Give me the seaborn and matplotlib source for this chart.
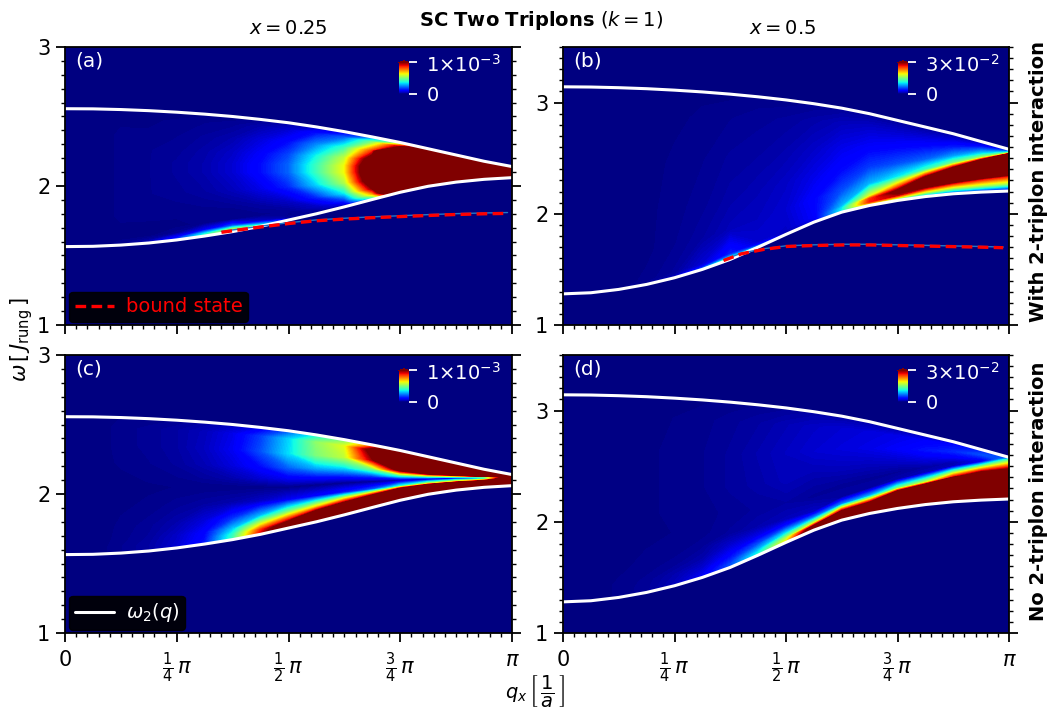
import numpy as np
import matplotlib
matplotlib.use("Agg")
import matplotlib.pyplot as plt
from matplotlib.ticker import MultipleLocator
import seaborn as sns

# q nodes in units of pi
q_nodes = [0, .0625, .125, .1875, .25, .3125, .375, .4375, .5, .5625, .625, .6875, .75, .8125, .875, .9375, 1]

# band edges
upper_25 = [2.556, 2.555, 2.55, 2.542, 2.531, 2.517, 2.50, 2.479, 2.455, 2.425, 2.391, 2.353, 2.313, 2.268, 2.223, 2.178, 2.14]
lower_25 = [1.564, 1.566, 1.575, 1.59, 1.612, 1.64, 1.672, 1.71, 1.755, 1.80, 1.85, 1.903, 1.955, 1.998, 2.028, 2.048, 2.06]
upper_50 = [3.142, 3.14, 3.134, 3.125, 3.112, 3.096, 3.076, 3.052, 3.024, 2.99, 2.95, 2.90, 2.84, 2.78, 2.72, 2.65, 2.58]
lower_50 = [1.28, 1.29, 1.32, 1.365, 1.425, 1.50, 1.59, 1.70, 1.815, 1.925, 2.015, 2.075, 2.12, 2.155, 2.18, 2.195, 2.205]

# curves the intensity grid is hung on, one per panel
mid_a = [2.10] * 17
mid_b = [1.33, 1.34, 1.37, 1.415, 1.475, 1.55, 1.64, 1.75, 1.865, 1.975, 2.07, 2.16, 2.24, 2.33, 2.41, 2.48, 2.54]
mid_c = [2.05, 2.05, 2.05, 2.05, 2.05, 2.05, 2.05, 2.05, 2.05, 2.065, 2.08, 2.09, 2.10, 2.108, 2.115, 2.118, 2.12]
mid_d = [1.9, 1.9, 1.9, 1.9, 1.9, 1.9, 1.9, 1.95, 2.02, 2.09, 2.22, 2.30, 2.38, 2.44, 2.50, 2.54, 2.565]

# position of the grid rows between lower edge -> mid and mid -> upper edge
low_rows = [0, .04, .1, .2, .4, .7, 1]
high_rows = [.15, .35, .6, .85, 1]

# bound state
bound_q_a = [.35, .4375, .5, .5625, .625, .6875, .75, .8125, .875, .9375, .99]
bound_w_a = [1.667, 1.705, 1.73, 1.75, 1.762, 1.772, 1.78, 1.788, 1.795, 1.80, 1.803]
bound_q_b = [.36, .40, .45, .5, .5625, .63, .6875, .75, .8125, .875, .9375, .987]
bound_w_b = [1.58, 1.64, 1.68, 1.706, 1.715, 1.72, 1.72, 1.715, 1.71, 1.705, 1.70, 1.695]

# intensity in units of the colour bar top, one row per q node
field_a = [
    [0, 0, 0, 0, 0, 0, 0, 0, 0, 0, 0, 0],
    [0, 0, 0, 0, 0, 0, 0, 0, 0, 0, 0, 0],
    [.01, .01, .005, .005, .01, .01, .01, .01, .01, .01, .005, 0],
    [.05, .03, .005, .005, .01, .015, .015, .015, .015, .01, .005, 0],
    [.18, .12, .02, .005, .01, .02, .025, .025, .02, .015, .01, 0],
    [.45, .35, .1, .01, .012, .03, .04, .04, .035, .025, .015, .005],
    [.7, .55, .2, .015, .015, .05, .07, .07, .06, .04, .02, .01],
    [.5, .3, .06, .01, .03, .09, .13, .13, .11, .08, .04, .015],
    [.06, .03, .01, .02, .06, .16, .22, .22, .19, .13, .07, .03],
    [.01, .01, .03, .06, .16, .33, .42, .42, .37, .26, .14, .05],
    [.01, .04, .1, .18, .36, .56, .64, .64, .58, .42, .22, .08],
    [.15, .3, .5, .72, 1.0, 1.2, 1.28, 1.28, 1.15, .85, .5, .18],
    [.9, 1.2, 1.6, 2, 2.5, 3, 3, 3, 3, 2.5, 1.0, .4],
    [1.2, 2, 3, 3, 3, 3, 3, 3, 3, 3, 2, 1.1],
    [3, 3, 3, 3, 3, 3, 3, 3, 3, 3, 3, 1.5],
    [3, 3, 3, 3, 3, 3, 3, 3, 3, 3, 3, 2],
    [3, 3, 3, 3, 3, 3, 3, 3, 3, 3, 3, 3],
]
field_b = [
    [0, 0, 0, 0, 0, 0, 0, 0, 0, 0, 0, 0],
    [0, 0, 0, 0, 0, 0, 0, 0, 0, 0, 0, 0],
    [.005, .005, .005, .005, .005, .004, .003, .002, .002, .001, 0, 0],
    [.02, .02, .02, .015, .015, .01, .01, .005, .005, .003, 0, 0],
    [.07, .07, .06, .05, .04, .03, .025, .015, .012, .01, .005, 0],
    [.3, .28, .25, .2, .14, .09, .07, .03, .02, .015, .01, .005],
    [.8, .75, .65, .5, .35, .22, .15, .05, .035, .025, .015, .005],
    [.45, .42, .35, .24, .14, .09, .07, .055, .045, .03, .02, .01],
    [.03, .03, .03, .03, .04, .05, .06, .07, .06, .04, .025, .01],
    [.05, .06, .07, .08, .09, .1, .11, .12, .09, .06, .035, .015],
    [.2, .24, .28, .32, .36, .34, .3, .2, .13, .09, .05, .02],
    [.35, .42, .55, .7, .88, .85, .62, .3, .18, .11, .06, .02],
    [.2, .3, .45, .65, .95, 1.05, .82, .36, .2, .12, .06, .02],
    [.12, .2, .35, .55, .88, 1.3, 1.0, .42, .22, .13, .06, .02],
    [.1, .15, .3, .52, .88, 1.6, 1.05, .5, .28, .15, .07, .02],
    [.08, .14, .3, .55, .88, 1.8, 1.1, .55, .35, .2, .08, .03],
    [.05, .12, .28, .55, .88, 2, 1.1, .6, .4, .2, .1, .03],
]
field_c = [
    [0, 0, 0, 0, 0, 0, 0, 0, 0, 0, 0, 0],
    [0, 0, 0, 0, 0, 0, 0, 0, 0, 0, 0, 0],
    [.015, .015, .015, .012, .01, .006, .004, .005, .01, .012, .012, .008],
    [.03, .03, .03, .025, .02, .01, .006, .01, .015, .018, .018, .01],
    [.07, .07, .065, .06, .04, .02, .008, .015, .025, .03, .03, .015],
    [.14, .14, .13, .12, .08, .03, .008, .025, .045, .055, .05, .03],
    [.42, .42, .4, .32, .17, .04, .008, .04, .08, .1, .09, .05],
    [.9, .9, .85, .65, .3, .06, .008, .07, .13, .2, .18, .09],
    [1.3, 1.3, 1.15, .9, .5, .1, .008, .1, .22, .34, .33, .2],
    [1.9, 1.9, 1.7, 1.3, .7, .12, .008, .12, .3, .5, .52, .36],
    [2.5, 2.5, 2.3, 1.9, .95, .15, .01, .14, .34, .58, .62, .48],
    [2.8, 2.8, 2.7, 2.3, 1.25, .2, .012, .18, .5, .98, 1.1, .75],
    [3, 3, 3, 2.8, 2, .4, .015, .4, 1.1, 2.4, 2.2, 1.2],
    [3, 3, 3, 3, 2.5, .6, .02, .6, 1.6, 3, 3, 1.5],
    [3, 3, 3, 3, 2.8, .7, .02, .8, 2, 3, 3, 1.5],
    [3, 3, 3, 3, 3, .9, .03, 1, 2.5, 3, 3, 1.6],
    [3, 3, 3, 3, 3, 3, 1.2, 1, 3, 3, 3, 2],
]
field_d = [
    [0, 0, 0, 0, 0, 0, 0, 0, 0, 0, 0, 0],
    [0, 0, 0, 0, 0, 0, 0, 0, 0, 0, 0, 0],
    [.01, .01, .01, .01, .006, .005, .005, .005, .005, .005, .003, 0],
    [.02, .02, .02, .018, .012, .008, .006, .006, .006, .006, .004, 0],
    [.05, .05, .045, .04, .02, .01, .008, .01, .01, .01, .008, .004],
    [.1, .1, .09, .07, .04, .02, .012, .012, .015, .015, .012, .006],
    [.2, .2, .19, .16, .11, .06, .025, .018, .025, .025, .02, .01],
    [.4, .38, .36, .3, .2, .09, .04, .025, .035, .04, .03, .015],
    [.65, .65, .62, .55, .35, .15, .05, .03, .05, .055, .045, .02],
    [1.3, 1.3, 1.2, 1.1, .6, .24, .06, .02, .04, .07, .06, .03],
    [2, 2, 2, 1.8, 1.0, .25, .03, .02, .05, .08, .07, .03],
    [2.5, 2.5, 2.4, 2.2, 1.1, .3, .03, .02, .05, .09, .08, .03],
    [3, 3, 3, 3, 2, .5, .04, .02, .06, .11, .09, .03],
    [3, 3, 3, 3, 2.5, .6, .05, .03, .08, .14, .11, .04],
    [3, 3, 3, 3, 3, .9, .05, .04, .1, .16, .13, .05],
    [3, 3, 3, 3, 3, 1.1, .1, .1, .15, .2, .16, .08],
    [1.0, 1.5, 2.5, 3, 3, 1.1, .4, .3, .25, .2, .15, .1],
]

panel_names = ["(a)", "(b)", "(c)", "(d)"]
scale_labels = [r"$1{\times}10^{-3}$", r"$3{\times}10^{-2}$"]
x_tick_labels = ["$0$", r"$\frac{1}{4}\,\pi$", r"$\frac{1}{2}\,\pi$", r"$\frac{3}{4}\,\pi$", r"$\pi$"]

sns.set_style("ticks", {"text.color": "black", "xtick.color": "black", "ytick.color": "black", "axes.labelcolor": "black"})
plt.rcParams["font.family"] = ["DejaVu Sans"]
plt.rcParams["mathtext.fontset"] = "dejavusans"

W, H = 1050, 709
fig = plt.figure(figsize=(W / 100, H / 100), dpi=100)


def add_panel(left, top, right, bottom):
    return fig.add_axes([left / W, 1 - bottom / H, (right - left) / W, (bottom - top) / H])


def draw_panel(ax, field, lower, upper, mid, top, name, scale, cbar_x, legend=None, bound=None):
    q = np.array(q_nodes) * np.pi
    lo, up, mi = np.array(lower), np.array(upper), np.array(mid)
    # rows of the mesh follow the band edges
    rows = [lo + f * (mi - lo) for f in low_rows] + [mi + f * (up - mi) for f in high_rows]
    Q = np.tile(q, (len(rows), 1))
    Z = np.array(field).T
    ax.set_facecolor(plt.get_cmap("jet")(0.0))
    cs = ax.contourf(Q, np.array(rows), Z, levels=np.linspace(0, 1, 129), cmap="jet", extend="max")

    sns.lineplot(x=q, y=lo, ax=ax, color="white", lw=2.2, estimator=None, sort=False,
                 label=r"$\omega_2(q)$" if legend == "band" else None, legend=False)
    sns.lineplot(x=q, y=up, ax=ax, color="white", lw=2.2, estimator=None, sort=False, legend=False)
    if bound is not None:
        bq = np.array(bound[0]) * np.pi
        sns.lineplot(x=bq, y=np.array(bound[1]) + .006, ax=ax, color="#1e78c8", lw=1.0, estimator=None, sort=False, legend=False)
        sns.lineplot(x=bq, y=bound[1], ax=ax, color="red", lw=2.4, ls=(0, (3.2, 1.6)), estimator=None, sort=False,
                     label="bound state" if legend == "bound" else None, legend=False)

    ax.set_xlim(0, np.pi)
    ax.set_ylim(1, top)
    ax.xaxis.set_major_locator(MultipleLocator(np.pi / 4))
    ax.xaxis.set_minor_locator(MultipleLocator(np.pi / 40))
    ax.yaxis.set_major_locator(MultipleLocator(1))
    ax.yaxis.set_minor_locator(MultipleLocator(0.1))
    ax.tick_params(which="major", length=6.5, width=1.3, left=True, right=True, bottom=True, top=False, labelsize=15, pad=4)
    ax.tick_params(which="minor", length=3, width=1.0, left=True, right=True, bottom=True, top=False)
    for s in ax.spines.values():
        s.set_visible(True)
        s.set_linewidth(1.3)
        s.set_color("black")
        s.set_zorder(5)
    ax.set_xlabel("")
    ax.set_ylabel("")
    ax.text(0.022, 0.948, name, transform=ax.transAxes, color="white", fontsize=14.5, ha="left", va="center")

    if legend is not None:
        leg = ax.legend(loc="lower left", fontsize=14, frameon=True, facecolor="black", edgecolor="black",
                        framealpha=0.9, borderpad=0.3, handlelength=2.0, handletextpad=0.6,
                        bbox_to_anchor=(0.005, 0.003), borderaxespad=0.1)
        for t in leg.get_texts():
            t.set_color("red" if legend == "bound" else "white")

    # little colour scale inside the panel
    cax = ax.inset_axes([cbar_x, 0.831, 0.0224, 0.119])
    cb = fig.colorbar(cs, cax=cax, ticks=[0, 1], extend="neither", drawedges=False)
    cb.outline.set_visible(False)
    cb.ax.tick_params(which="major", length=6, width=1.3, color="white", labelcolor="white", labelsize=14, pad=6.5)
    cb.ax.tick_params(which="minor", length=0)
    cb.ax.set_yticklabels(["0", scale])
    return ax


ax_a = add_panel(65, 47, 512, 325)
ax_b = add_panel(563, 47, 1009, 325)
ax_c = add_panel(65, 355, 512, 633)
ax_d = add_panel(563, 355, 1009, 633)

draw_panel(ax_a, field_a, lower_25, upper_25, mid_a, 3, panel_names[0], scale_labels[0], 0.747,
           legend="bound", bound=(bound_q_a, bound_w_a))
draw_panel(ax_b, field_b, lower_50, upper_50, mid_b, 3.5, panel_names[1], scale_labels[1], 0.751,
           bound=(bound_q_b, bound_w_b))
draw_panel(ax_c, field_c, lower_25, upper_25, mid_c, 3, panel_names[2], scale_labels[0], 0.747, legend="band")
draw_panel(ax_d, field_d, lower_50, upper_50, mid_d, 3.5, panel_names[3], scale_labels[1], 0.751)

for ax in (ax_a, ax_b):
    ax.tick_params(labelbottom=False)
for ax in (ax_c, ax_d):
    ax.set_xticks([0, np.pi / 4, np.pi / 2, 3 * np.pi / 4, np.pi], x_tick_labels)
    ax.tick_params(axis="x", labelsize=15, pad=6)

fig.text(288 / W, 1 - 28 / H, "$x = 0.25$", fontsize=14, ha="center", va="center")
fig.text(783 / W, 1 - 28 / H, "$x = 0.5$", fontsize=14, ha="center", va="center")
fig.text(541 / W, 1 - 20 / H, r"$\mathbf{SC\ Two\ Triplons}$ $(k=1)$", fontsize=14, ha="center", va="center")
fig.text(1038 / W, 1 - 181 / H, "With 2-triplon interaction", fontsize=14, fontweight="bold", rotation=90, ha="center", va="center")
fig.text(1038 / W, 1 - 491 / H, "No 2-triplon interaction", fontsize=14, fontweight="bold", rotation=90, ha="center", va="center")
fig.text(22 / W, 1 - 340 / H, r"$\omega\,[\,J_{\mathrm{rung}}\,]$", fontsize=15, rotation=90, ha="center", va="center")
fig.text(535 / W, 1 - 691 / H, r"$q_x\,\left[\,\dfrac{1}{a}\,\right]$", fontsize=14, ha="center", va="center")

fig.savefig("out.png", dpi=100)
